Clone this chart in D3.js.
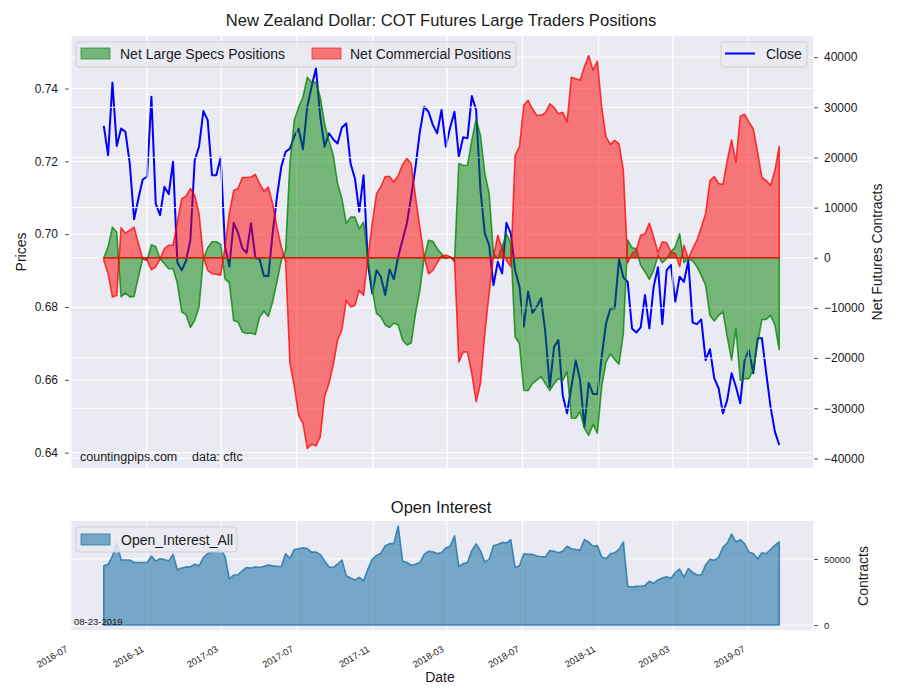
<!DOCTYPE html>
<html><head><meta charset="utf-8">
<script src="https://cdn.jsdelivr.net/npm/d3@7"></script>
<style>body{margin:0;background:#fff} text{font-family:"Liberation Sans",Arial,sans-serif;fill:#1a1a1a}</style>
</head><body><svg id="c" width="900" height="700"></svg>
<script>
// ---- data (weekly COT reports) ----
const startDate = "2016-08-23";
const price = [0.7297,0.7217,0.7416,0.7242,0.7290,0.7281,0.7194,0.7041,0.7098,0.7150,0.7158,0.7377,0.7084,0.7052,0.7130,0.7110,0.7199,0.6922,0.6901,0.6927,0.6984,0.7203,0.7240,0.7338,0.7313,0.7162,
0.7162,0.7211,0.6966,0.6911,0.7031,0.7004,0.6961,0.6949,0.7030,0.6936,0.6931,0.6885,0.6885,0.7002,0.7103,0.7185,0.7226,0.7235,0.7268,0.7290,0.7233,0.7350,0.7405,0.7455,0.7322,0.7240,
0.7277,0.7260,0.7249,0.7293,0.7304,0.7194,0.7153,0.7062,0.7162,0.6920,0.6837,0.6901,0.6883,0.6833,0.6903,0.6876,0.6938,0.6984,0.7030,0.7103,0.7185,0.7281,0.7350,0.7336,0.7300,0.7277,
0.7341,0.7240,0.7293,0.7336,0.7213,0.7266,0.7263,0.7379,0.7341,0.7121,0.7002,0.6970,0.6860,0.6924,0.6892,0.7031,0.7002,0.6901,0.6856,0.6746,0.6842,0.6784,0.6801,0.6824,0.6728,0.6581,
0.6691,0.6709,0.6558,0.6508,0.6581,0.6653,0.6600,0.6471,0.6592,0.6561,0.6561,0.6664,0.6755,0.6796,0.6796,0.6931,0.6881,0.6869,0.6741,0.6730,0.6744,0.6833,0.6741,0.6856,0.6909,0.6753,
0.6901,0.6915,0.6815,0.6883,0.6869,0.6927,0.6757,0.6753,0.6766,0.6654,0.6684,0.6604,0.6577,0.6508,0.6545,0.6618,0.6581,0.6536,0.6654,0.6682,0.6618,0.6714,0.6714,0.6618,0.6526,0.6458,0.6421];
const specs = [0,2200,6100,5100,-7800,-7000,-7800,-7700,-3800,-200,-500,2600,2200,-200,-1200,-2200,-2200,-5100,-10800,-11300,-13900,-12500,-9800,-200,2000,3200,
3200,2700,-4200,-5000,-12500,-12800,-14800,-15100,-15000,-15300,-11800,-10600,-11700,-8800,-4800,-500,1500,19000,27400,30000,32000,36000,35000,35000,32000,26700,
23400,20400,14800,11800,6800,8100,8100,5800,7100,-200,-6500,-11100,-11800,-13400,-13900,-13000,-13400,-16400,-17400,-17000,-11100,-6500,0,3500,3300,1800,
800,-200,200,-800,18800,18400,18400,23400,27700,24400,16800,12800,800,-200,2200,4800,2800,-15800,-17100,-26400,-26500,-25100,-24400,-23700,-25100,-26500,
-25100,-24100,-24500,-22700,-32000,-32000,-30700,-34000,-35400,-33200,-35000,-25700,-20800,-19200,-20300,-21200,-15100,3500,2000,1800,-1500,-2800,-4300,-2500,500,-1000,
-200,1200,2200,4800,-1000,-200,-600,-1800,-3500,-5500,-11500,-12600,-11500,-10800,-15800,-20400,-14100,-24400,-24100,-24100,-22400,-17100,-12300,-12300,-11500,-13400,-18300];
const comm = [-500,-3200,-7800,-7500,6000,4900,5500,6100,2800,-200,-500,-2400,-1800,-200,1800,2500,2500,7100,11800,12300,13800,12500,8800,200,-2500,-3200,
-3300,-3500,2200,8800,13400,13800,16000,16000,16100,16600,14800,13300,14100,10800,6100,2200,-800,-21000,-25700,-31400,-33000,-38000,-37200,-37500,-35700,-27700,
-25100,-21400,-16400,-14400,-8500,-9800,-9500,-6500,-7500,0,6800,12800,14200,16200,16200,15100,16400,18600,19800,18800,12100,6100,200,-3200,-2500,-1000,
300,500,200,-500,-20800,-18800,-18800,-23100,-28700,-25100,-15100,-7100,200,4500,1800,-500,-1800,20400,22100,30400,31400,29700,28400,28400,28900,30700,
30000,28700,29000,27100,36000,35700,35400,38100,40300,37400,39200,30000,24100,22600,23400,22700,17400,-1000,800,1600,4500,4800,6900,4200,1000,3200,
3000,1200,800,-1800,2500,-200,1800,3500,6100,8800,15400,16200,14800,14600,19400,23500,19100,28200,28600,27100,25700,21100,16000,15400,14400,17400,22200];
const openInterest = [44800,46000,52200,62100,49200,49200,49200,47300,47300,47300,47300,52200,48500,50200,49700,48500,53500,41800,43100,44000,44000,46000,44800,51000,54000,55400,
55900,57200,52200,34900,37900,38100,41100,43600,43100,44000,43600,44500,45500,44800,44500,44300,54000,50500,57200,57700,58400,57900,55200,55200,53500,48500,
44000,43600,46000,49200,37400,35600,34100,36100,33600,42300,49700,52700,54400,60100,61600,61600,75000,48500,47300,45300,46000,47300,53500,55900,55400,54200,
54700,58400,59600,67600,44300,46500,47300,56400,61400,56200,47800,49700,60100,60900,62600,62100,64600,43600,44800,54000,53500,53500,52200,51700,51700,56400,
55900,54700,55900,59600,57700,57200,56700,64600,62900,59600,60100,51500,50200,54000,54700,57200,62900,29400,28700,29400,29400,29900,33200,31700,34100,35600,
36600,35400,39800,42300,36100,42800,39800,37900,37900,45500,49700,49000,51000,58900,62100,68800,62900,64600,61600,55200,54200,50200,54700,54000,57200,60400,62900];
const priceTicks = [0.64,0.66,0.68,0.70,0.72,0.74];
const netTicks = [-40000,-30000,-20000,-10000,0,10000,20000,30000,40000];
const oiTicks = [0,50000];
const dateTicks = ["2016-07-01","2016-11-01","2017-03-01","2017-07-01","2017-11-01","2018-03-01","2018-07-01","2018-11-01","2019-03-01","2019-07-01"];
const priceDomain = [0.6358,0.7544];
const reportLabel = "08-23-2019";

// ---- layout ----
const L=70, R=813, T1=36, B1=468, T2=521, B2=630;
const parse = d3.utcParse("%Y-%m-%d");
const t0 = parse(startDate);
const dates = price.map((_, i) => d3.utcDay.offset(t0, 7*i));
const span = dates[dates.length-1] - dates[0];
const x = d3.scaleUtc()
  .domain([new Date(+dates[0] - 0.05*span), new Date(+dates[dates.length-1] + 0.05*span)])
  .range([L, R]);
const yP = d3.scaleLinear().domain(priceDomain).range([B1, T1]);
const nExt = d3.extent([...specs, ...comm, 0]);
const nPad = 0.05*(nExt[1]-nExt[0]);
const yN = d3.scaleLinear().domain([nExt[0]-nPad, nExt[1]+nPad]).range([B1, T1]);
const oMax = d3.max(openInterest);
const yO = d3.scaleLinear().domain([-0.05*oMax, 1.05*oMax]).range([B2, T2]);
const dTicks = dateTicks.map(parse);

const svg = d3.select("#c");
const BG = "#EAEAF2";

svg.append("rect").attr("x",L).attr("y",T1).attr("width",R-L).attr("height",B1-T1).attr("fill",BG);
svg.append("rect").attr("x",L).attr("y",T2).attr("width",R-L).attr("height",B2-T2).attr("fill",BG);

const clip1 = svg.append("clipPath").attr("id","clip1");
clip1.append("rect").attr("x",L).attr("y",T1).attr("width",R-L).attr("height",B1-T1);
const clip2 = svg.append("clipPath").attr("id","clip2");
clip2.append("rect").attr("x",L).attr("y",T2).attr("width",R-L).attr("height",B2-T2);

const g1 = svg.append("g").attr("clip-path","url(#clip1)");
function vgrid(g, top, bot){
  g.selectAll(null).data(dTicks).join("line")
   .attr("x1",d=>x(d)).attr("x2",d=>x(d)).attr("y1",top).attr("y2",bot)
   .attr("stroke","#fff").attr("stroke-width",1);
}
vgrid(g1, T1, B1);
g1.selectAll(null).data(priceTicks).join("line")
  .attr("x1",L).attr("x2",R).attr("y1",d=>yP(d)).attr("y2",d=>yP(d))
  .attr("stroke","#fff").attr("stroke-width",1);
g1.append("path").datum(price)
  .attr("d", d3.line().x((d,i)=>x(dates[i])).y(d=>yP(d)))
  .attr("fill","none").attr("stroke","#0000ff").attr("stroke-width",2).attr("stroke-linejoin","round");
vgrid(g1, T1, B1);
g1.selectAll(null).data(netTicks).join("line")
  .attr("x1",L).attr("x2",R).attr("y1",d=>yN(d)).attr("y2",d=>yN(d))
  .attr("stroke","#fff").attr("stroke-width",1);
const area = d3.area().x((d,i)=>x(dates[i])).y0(yN(0)).y1(d=>yN(d));
g1.append("path").attr("d", area(specs)+"Z")
  .attr("fill","rgba(0,128,0,0.5)").attr("stroke","rgba(0,128,0,0.75)").attr("stroke-width",1.6).attr("stroke-linejoin","round");
g1.append("path").attr("d", area(comm)+"Z")
  .attr("fill","rgba(255,0,0,0.5)").attr("stroke","rgba(255,0,0,0.75)").attr("stroke-width",1.6).attr("stroke-linejoin","round");

const g2 = svg.append("g").attr("clip-path","url(#clip2)");
vgrid(g2, T2, B2);
g2.selectAll(null).data(oiTicks).join("line")
  .attr("x1",L).attr("x2",R).attr("y1",d=>yO(d)).attr("y2",d=>yO(d))
  .attr("stroke","#fff").attr("stroke-width",1);
const oArea = d3.area().x((d,i)=>x(dates[i])).y0(yO(0)).y1(d=>yO(d));
g2.append("path").attr("d", oArea(openInterest)+"Z")
  .attr("fill","rgba(40,120,170,0.6)").attr("stroke","rgba(40,120,170,0.85)").attr("stroke-width",1.6).attr("stroke-linejoin","round");

function styleAxis(g, size){
  g.select(".domain").remove();
  g.selectAll(".tick line").attr("stroke","#444").attr("stroke-width",0.9);
  g.selectAll(".tick text").attr("font-size",size).attr("fill","#1a1a1a")
    .attr("font-family",'"Liberation Sans",Arial,sans-serif');
}
const aL = svg.append("g").attr("transform",`translate(${L-1},0)`)
  .call(d3.axisLeft(yP).tickValues(priceTicks).tickFormat(d3.format(".2f")).tickSize(4).tickPadding(7));
styleAxis(aL, 12);
const aR = svg.append("g").attr("transform",`translate(${R+1},0)`)
  .call(d3.axisRight(yN).tickValues(netTicks).tickFormat(d3.format("d")).tickSize(4).tickPadding(6));
styleAxis(aR, 12);
const aR2 = svg.append("g").attr("transform",`translate(${R+1},0)`)
  .call(d3.axisRight(yO).tickValues(oiTicks).tickFormat(d3.format("d")).tickSize(4).tickPadding(6));
styleAxis(aR2, 9.5);
const aB = svg.append("g").attr("transform",`translate(0,${B2})`)
  .call(d3.axisBottom(x).tickValues(dTicks).tickFormat(d3.utcFormat("%Y-%m")).tickSize(0));
aB.select(".domain").remove();
aB.selectAll(".tick text").attr("font-size",9.3).attr("fill","#1a1a1a")
  .attr("text-anchor","end").attr("dy",null).attr("y",null)
  .attr("transform","translate(-3,21) rotate(-30)");

function txt(s, xx, yy, size, opts={}){
  const t = svg.append("text").attr("x",xx).attr("y",yy).attr("font-size",size).text(s);
  if(opts.anchor) t.attr("text-anchor",opts.anchor);
  if(opts.rot) t.attr("transform",`rotate(${opts.rot},${xx},${yy})`);
  return t;
}
txt("New Zealand Dollar: COT Futures Large Traders Positions", 441, 26, 16.6, {anchor:"middle"});
txt("Open Interest", 441, 513, 16.6, {anchor:"middle"});
txt("Prices", 26, 252, 14, {anchor:"middle", rot:-90});
txt("Net Futures Contracts", 882, 252, 14, {anchor:"middle", rot:-90});
txt("Contracts", 868, 576, 14, {anchor:"middle", rot:-90});
txt("Date", 440, 682, 14, {anchor:"middle"});
txt("countingpips.com", 80, 461, 12.5);
txt("data: cftc", 192, 461, 12.5);
txt(reportLabel, 74, 625, 9.5);

function legBox(x0,y0,w,h){
  svg.append("rect").attr("x",x0).attr("y",y0).attr("width",w).attr("height",h).attr("rx",3)
    .attr("fill","rgba(234,234,242,0.85)").attr("stroke","#cfcfd6").attr("stroke-width",1);
}
legBox(76,42,440,25);
svg.append("rect").attr("x",81).attr("y",48).attr("width",29).attr("height",11)
  .attr("fill","rgba(0,128,0,0.5)").attr("stroke","rgba(0,128,0,0.6)");
txt("Net Large Specs Positions", 120, 59, 14);
svg.append("rect").attr("x",312).attr("y",48).attr("width",29).attr("height",11)
  .attr("fill","rgba(255,0,0,0.5)").attr("stroke","rgba(255,0,0,0.6)");
txt("Net Commercial Positions", 350, 59, 14);

legBox(721,42,86,25);
svg.append("line").attr("x1",725).attr("x2",755).attr("y1",53.5).attr("y2",53.5).attr("stroke","#0000ff").attr("stroke-width",2);
txt("Close", 766, 59, 14);

legBox(76,527,161,25);
svg.append("rect").attr("x",81).attr("y",534).attr("width",29).attr("height",11)
  .attr("fill","rgba(40,120,170,0.6)").attr("stroke","rgba(40,120,170,0.8)");
txt("Open_Interest_All", 121, 545, 14);
</script></body></html>
